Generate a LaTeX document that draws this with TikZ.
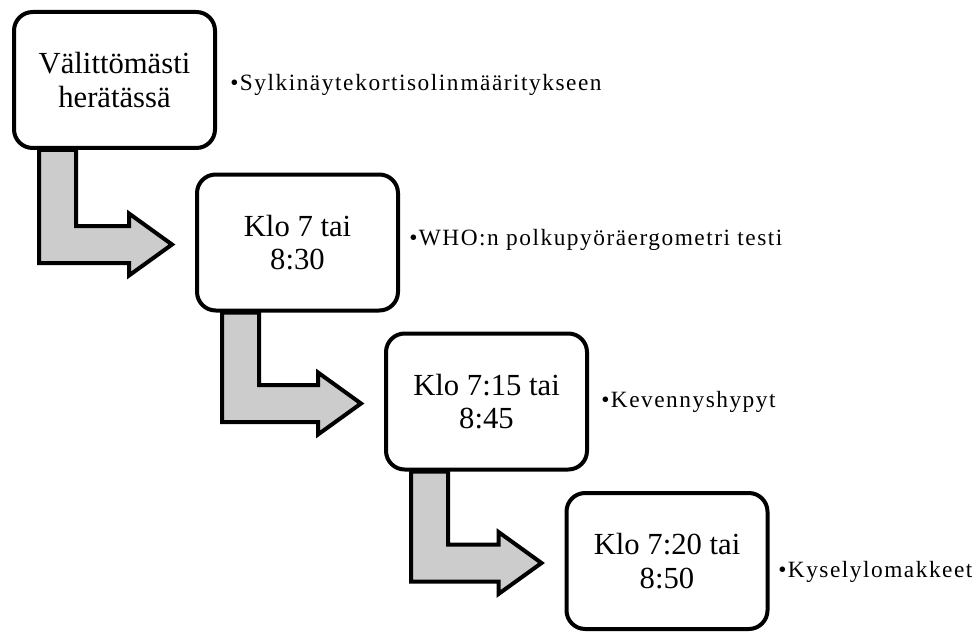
\documentclass[tikz,border=0pt]{standalone}
\usepackage{fontspec}
\setmainfont{Liberation Serif}
\usetikzlibrary{calc}
\definecolor{arrowgray}{RGB}{204,204,204}
\tikzset{
    stepbox/.style={draw, line width=3pt, rounded corners=14pt, fill=white,
        align=center, minimum width=150.75pt, minimum height=102pt,
        inner sep=0pt, font=\fontsize{23}{25}\selectfont},
    bulletlabel/.style={anchor=base west, inner sep=0pt,
        font=\fontsize{17.5}{19}\selectfont\addfontfeature{LetterSpace=6.5}},
    bentarrow/.style={draw, line width=3pt, fill=arrowgray, line join=miter}
}
\begin{document}
\begin{tikzpicture}[x=0.75pt, y=-0.75pt]
    \useasboundingbox (0,0) rectangle (979,635);
    % time boxes
    \node [stepbox] (b1) at (114.5,80)  {Välittömästi\\herätässä};
    \node [stepbox] (b2) at (297.5,242.5) {Klo 7 tai\\8:30};
    \node [stepbox] (b3) at (486.5,401.5) {Klo 7:15 tai\\8:45};
    \node [stepbox] (b4) at (667,561)   {Klo 7:20 tai\\8:50};

    % measurement labels
    \node [bulletlabel] (l1) at (230,91)  {•Sylkinäyte\hspace{1.5pt}kortisolin\hspace{1.5pt}määritykseen};
    \node [bulletlabel] (l2) at (409,245) {•WHO:n polkupyöräergometri testi};
    \node [bulletlabel] (l3) at (601,407) {•Kevennyshypyt};
    \node [bulletlabel] (l4) at (778,577) {•Kyselylomakkeet};

    % bent arrows from box to box
    \foreach \src/\dst in {b1/b2, b2/b3, b3/b4}
        \draw [bentarrow] ($(\src.south west)+(27,0)$) -- ($(\src.south west)+(64,0)$)
            |- ($(\dst.west)+(-66,-16.5)$) -- ++(0,-12.5) -- ($(\dst.west)+(-23,2)$)
            -- ($(\dst.west)+(-66,33)$) -- ++(0,-12.5) -| ($(\src.south west)+(27,0)$) -- cycle;
\end{tikzpicture}
\end{document}
